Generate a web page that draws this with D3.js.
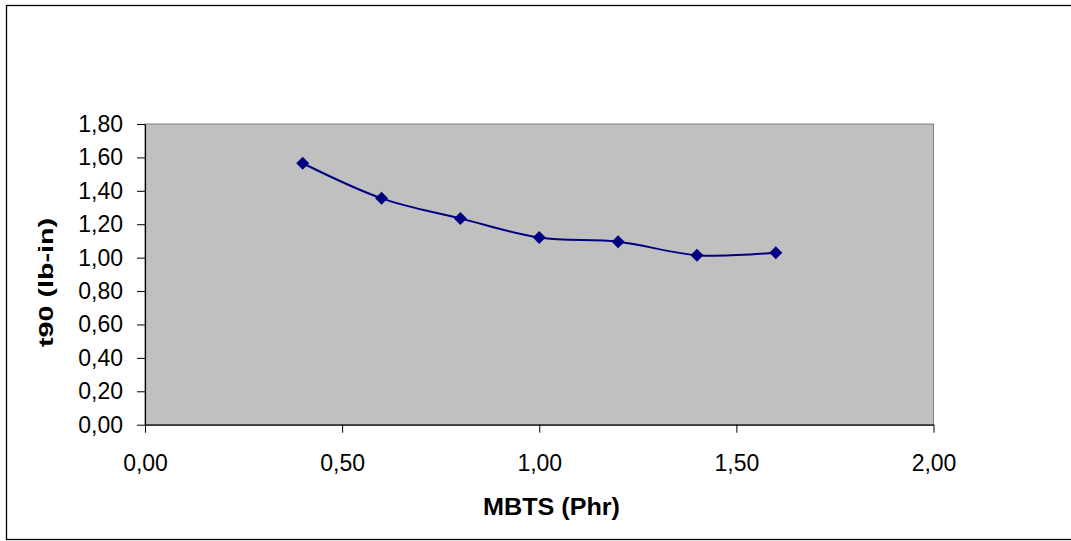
<!DOCTYPE html>
<html>
<head>
<meta charset="utf-8">
<script src="https://cdn.jsdelivr.net/npm/d3@7"></script>
<style>
  html, body { margin: 0; padding: 0; background: #fff; }
  svg { display: block; font-family: "Liberation Sans", Arial, sans-serif; }
</style>
</head>
<body>
<svg id="chart" width="1071" height="541"></svg>
<script>
// MBTS dosage (phr) and measured t90 values
const mbts = [0.4, 0.6, 0.8, 1.0, 1.2, 1.4, 1.6];
const t90 = [1.565, 1.355, 1.235, 1.12, 1.095, 1.015, 1.03];
const xTicks = [0, 0.5, 1.0, 1.5, 2.0];
const yTicks = [0, 0.2, 0.4, 0.6, 0.8, 1.0, 1.2, 1.4, 1.6, 1.8];
const xTitle = "MBTS (Phr)";
const yTitle = "t90 (lb-in)";

const svg = d3.select("#chart");
const fmt = v => d3.format(".2f")(v).replace(".", ",");

// outer chart frame (its right side runs past the visible area)
svg.append("rect")
  .attr("x", 6.5).attr("y", 5.5)
  .attr("width", 1075).attr("height", 534)
  .attr("fill", "#fff").attr("stroke", "#000").attr("stroke-width", 1.3);

const plot = { left: 145, right: 933.5, top: 124, bottom: 424.7 };

const x = d3.scaleLinear().domain([0, 2]).range([plot.left, plot.right]);
const y = d3.scaleLinear().domain([0, 1.8]).range([plot.bottom, plot.top]);

// plot area background
svg.append("rect")
  .attr("x", plot.left).attr("y", plot.top)
  .attr("width", plot.right - plot.left).attr("height", plot.bottom - plot.top)
  .attr("fill", "#c0c0c0").attr("stroke", "#808080").attr("stroke-width", 1);

// axes
const xAxis = d3.axisBottom(x).tickValues(xTicks).tickFormat(fmt).tickSizeInner(8).tickSizeOuter(0).tickPadding(22);
const yAxis = d3.axisLeft(y).tickValues(yTicks).tickFormat(fmt).tickSizeInner(8).tickSizeOuter(0).tickPadding(14);

const gx = svg.append("g").attr("transform", `translate(0,${plot.bottom})`).call(xAxis);
const gy = svg.append("g").attr("transform", `translate(${plot.left},0)`).call(yAxis);

[gx, gy].forEach(g => {
  g.selectAll(".domain").attr("stroke", "#000").attr("stroke-width", 1.2);
  g.selectAll(".tick line").attr("stroke", "#000");
  g.selectAll(".tick text")
    .attr("fill", "#000")
    .style("font-size", "23px")
    .style("font-family", "'Liberation Sans', Arial, sans-serif");
});

// axis titles
svg.append("text")
  .attr("x", 551.5).attr("y", 515)
  .attr("text-anchor", "middle")
  .attr("textLength", 137).attr("lengthAdjust", "spacingAndGlyphs")
  .style("font-size", "24px").style("font-weight", "bold")
  .text(xTitle);

svg.append("text")
  .attr("transform", "translate(53,282.5) rotate(-90)")
  .attr("text-anchor", "middle")
  .attr("textLength", 129).attr("lengthAdjust", "spacingAndGlyphs")
  .style("font-size", "21px").style("font-weight", "bold")
  .text(yTitle);

// smoothed series line
const pts = mbts.map((v, i) => [v, t90[i]]);
const line = d3.line()
  .x(d => x(d[0])).y(d => y(d[1]))
  .curve(d3.curveCardinal.tension(0));

svg.append("path")
  .datum(pts)
  .attr("d", line)
  .attr("fill", "none")
  .attr("stroke", "#000080")
  .attr("stroke-width", 2);

// diamond markers
svg.selectAll(".marker")
  .data(pts)
  .enter().append("path")
  .attr("class", "marker")
  .attr("transform", d => `translate(${x(d[0])},${y(d[1])})`)
  .attr("d", "M0,-6.5L6.5,0L0,6.5L-6.5,0Z")
  .attr("fill", "#000080");
</script>
</body>
</html>
